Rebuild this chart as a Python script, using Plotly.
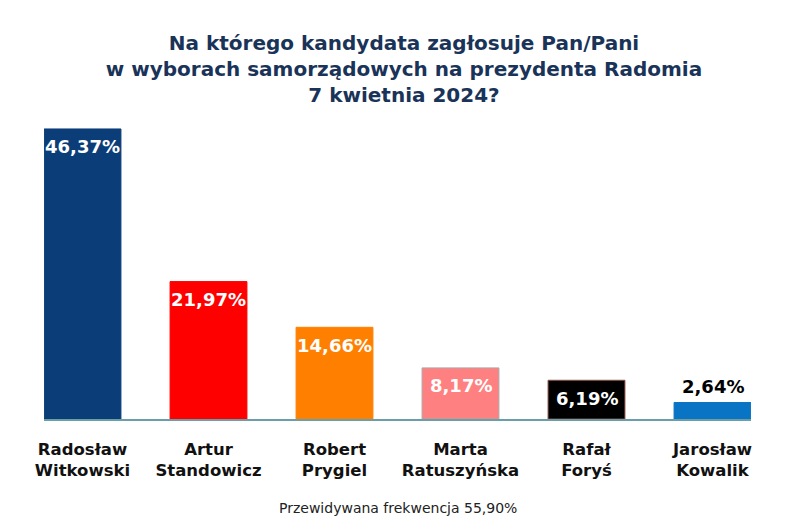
import plotly.graph_objects as go

# dane z sondażu
kandydaci = ["Radosław<br>Witkowski", "Artur<br>Standowicz", "Robert<br>Prygiel",
             "Marta<br>Ratuszyńska", "Rafał<br>Foryś", "Jarosław<br>Kowalik"]
wyniki = [46.37, 21.97, 14.66, 8.17, 6.19, 2.64]
etykiety = ["46,37%", "21,97%", "14,66%", "8,17%", "6,19%", "2,64%"]
kolory = ["#0b3d78", "#ff0000", "#ff8000", "#ff8080", "#000000", "#0a74c4"]
obramowania = ["#0b3d78", "#ff0000", "#ff8000", "#a8a8a8", "#8a4a40", "#0a74c4"]
kolory_tekstu = ["white", "white", "white", "white", "white", "black"]
w_srodku = [True, True, True, True, True, False]

FONT = "DejaVu Sans"

fig = go.Figure()
fig.add_bar(x=kandydaci, y=wyniki,
            marker=dict(color=kolory, line=dict(color=obramowania, width=1)),
            hoverinfo="skip")

# etykiety wartości przy szczycie słupka
for k, w, t, c, s in zip(kandydaci, wyniki, etykiety, kolory_tekstu, w_srodku):
    fig.add_annotation(x=k, y=w, text=t, showarrow=False,
                       yanchor="middle", yshift=-18 if s else 16,
                       font=dict(family=FONT, size=18, color=c, weight="bold"))

fig.add_annotation(text="Przewidywana frekwencja 55,90%", xref="paper", yref="paper",
                   x=0.5, y=-0.279, xanchor="center", yanchor="middle",
                   showarrow=False, font=dict(family=FONT, size=14, color="#222222"))

fig.update_layout(
    width=800, height=529,
    paper_bgcolor="white", plot_bgcolor="white",
    showlegend=False,
    bargap=0.39,
    margin=dict(l=36, r=57, t=92, b=118),
    title=dict(
        text="<b>Na którego kandydata zagłosuje Pan/Pani<br>"
             "w wyborach samorządowych na prezydenta Radomia<br>"
             "7 kwietnia 2024?</b>",
        x=0.495, xanchor="center", y=1 - 42 / 529, yanchor="middle",
        font=dict(family=FONT, size=20, color="#1a3358"),
    ),
)
fig.update_xaxes(range=[-0.3056, 5.3056], showline=True, linecolor="#6a9fa8", linewidth=1.5,
                 ticks="", showgrid=False, ticklabelstandoff=14,
                 tickfont=dict(family=FONT, size=16.5, color="#111111", weight="bold"))
fig.update_yaxes(range=[0, 51], visible=False, showgrid=False)

fig.write_html("out.html")
